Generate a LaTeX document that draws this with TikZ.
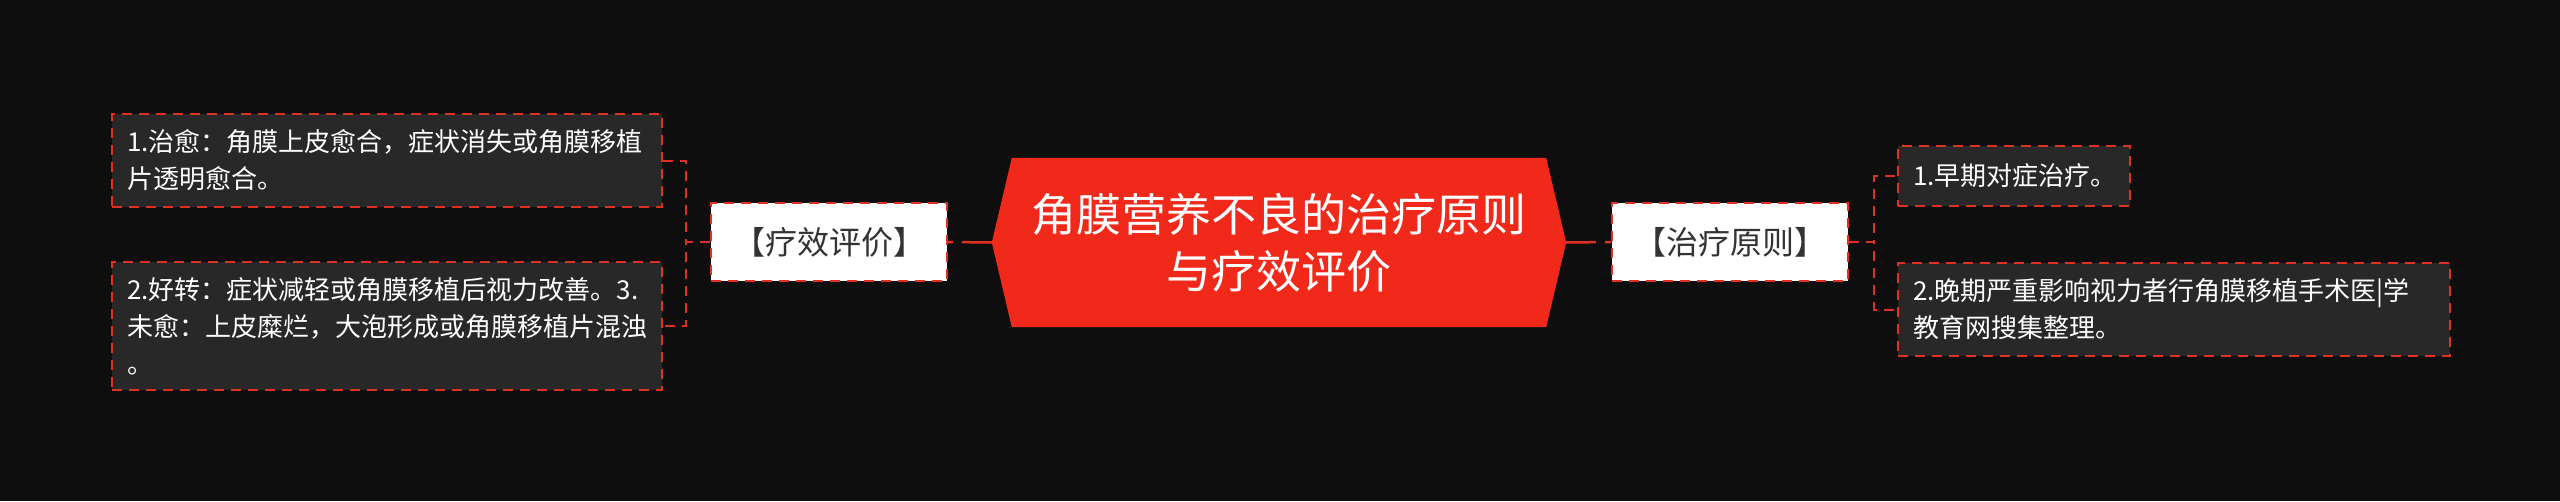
\documentclass[tikz,border=0pt]{standalone}
\usepackage{fontspec}
\setmainfont{Noto Sans CJK SC}
\definecolor{bg}{HTML}{0E0E0E}
\definecolor{lred}{HTML}{E0301F}
\definecolor{rootred}{HTML}{F0291A}
\definecolor{leaffill}{HTML}{282828}
\definecolor{ltext}{HTML}{333333}
\begin{document}
\begin{tikzpicture}[x=1pt,y=-1pt,
  leaf/.style={draw=lred, line width=2pt, dash pattern=on 10pt off 7pt, fill=leaffill,
    text=white, font=\fontsize{26}{37}\selectfont, align=left, inner xsep=15pt,
    inner ysep=0pt, anchor=north west},
  branch/.style={draw=lred, line width=2pt, dash pattern=on 10pt off 7pt, fill=white,
    text=ltext, font=\fontsize{32}{38}\selectfont, minimum width=236pt,
    minimum height=78pt, inner sep=0pt},
  rootbox/.style={minimum width=574pt, minimum height=169pt, inner sep=0pt,
    text=white, align=center, font=\fontsize{45}{57}\selectfont},
  mainlink/.style={draw=lred, line width=2.5pt, dash pattern=on 30pt off 9pt},
  sublink/.style={draw=lred, line width=2pt, dash pattern=on 10pt off 7pt}
]
\fill[bg] (0,0) rectangle (2560,501);
\useasboundingbox (0,0) rectangle (2560,501);

% root
\node[rootbox] (root) at (1279,242.5) {};
\fill[rootred] (root.west) -- ([xshift=20pt]root.north west) -- ([xshift=-20pt]root.north east)
  -- (root.east) -- ([xshift=-20pt]root.south east) -- ([xshift=20pt]root.south west) -- cycle;
\node[rootbox] at (root.center) {角膜营养不良的治疗原则\\与疗效评价};

% branches
\node[branch] (eval) at (829,242) {【疗效评价】};
\node[branch] (treat) at (1730,242) {【治疗原则】};

% leaves left
\node[leaf, text width=520pt, minimum height=93pt] (a1) at (111,113)
  {1.治愈：角膜上皮愈合，症状消失或角膜移植\\片透明愈合。};
\node[leaf, text width=520pt, minimum height=128pt] (a2) at (111,261)
  {2.好转：症状减轻或角膜移植后视力改善。3.\\未愈：上皮糜烂，大泡形成或角膜移植片混浊\\。};

% leaves right
\node[leaf, text width=202pt, minimum height=60pt] (b1) at (1897,145)
  {1.早期对症治疗。};
\node[leaf, text width=522pt, minimum height=93pt] (b2) at (1897,262)
  {2.晚期严重影响视力者行角膜移植手术医|学\\教育网搜集整理。};

% connectors
\draw[mainlink] (root.west) -- (eval.east);
\draw[mainlink] (root.east) -- (treat.west);
\draw[sublink] (eval.west) -- ++(-24,0) |- (a1.east);
\draw[sublink] (eval.west) -- ++(-24,0) |- (a2.east);
\draw[sublink] (treat.east) -- ++(25,0) |- (b1.west);
\draw[sublink] (treat.east) -- ++(25,0) |- (b2.west);
\end{tikzpicture}
\end{document}
